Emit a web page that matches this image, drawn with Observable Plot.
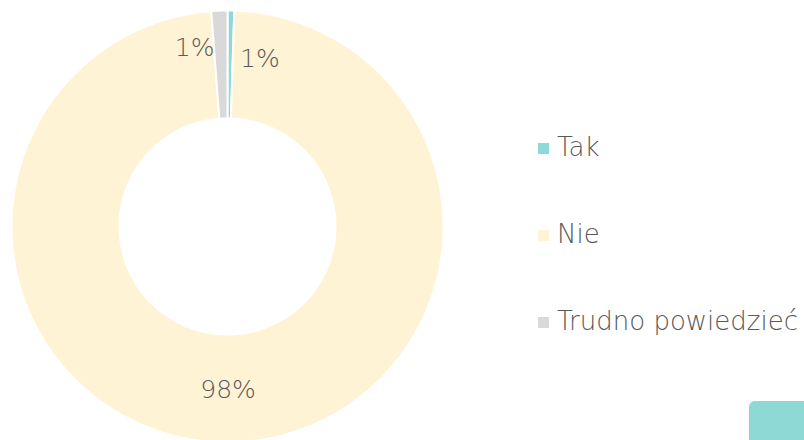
<!DOCTYPE html>
<html>
<head>
<meta charset="utf-8">
<script src="https://cdn.jsdelivr.net/npm/d3@7"></script>
<script src="https://cdn.jsdelivr.net/npm/@observablehq/plot@0.6"></script>
<style>
  html, body { margin: 0; padding: 0; background: #fff; }
  #wrap { position: relative; width: 804px; height: 440px; overflow: hidden; font-family: "DejaVu Sans", sans-serif; }
  #chart { position: absolute; left: 0; top: 0; }
  #legend { position: absolute; left: 538px; top: 132px; display: flex; flex-direction: column; gap: 57px; }
  .item { display: flex; align-items: center; height: 30px; color: #595959; font-size: 26px; font-weight: 300; white-space: nowrap; }
  .sw { width: 11px; height: 11px; margin-right: 8px; margin-top: 3px; }
  #deco { position: absolute; left: 749px; top: 401px; width: 70px; height: 50px; border-radius: 6px; background: #8ED8D6; }
</style>
</head>
<body>
<div id="wrap">
  <div id="chart"></div>
  <div id="legend"></div>
  <div id="deco"></div>
</div>
<script>
const categories = ["Tak", "Nie", "Trudno powiedzieć"];
const values = [0.5, 98.3, 1.2];
const labels = ["1%", "98%", "1%"];
const colors = ["#8ED8D6", "#FFF3D5", "#D9D9D9"];

const W = 804, H = 440;
const cx = 227, cy = 226, R = 216, r0 = 108, rLabel = 162;

const pie = d3.pie().sort(null).value(d => d.value);
const arcs = pie(categories.map((c, i) => ({cat: c, value: values[i], label: labels[i]})));

const pt = (a, rad) => ({x: rad * Math.sin(a), y: rad * Math.cos(a)});
const poly = [];
arcs.forEach(a => {
  const n = Math.max(3, Math.ceil((a.endAngle - a.startAngle) / 0.005));
  const pts = [];
  for (let k = 0; k <= n; k++) pts.push(pt(a.startAngle + (a.endAngle - a.startAngle) * k / n, R));
  for (let k = n; k >= 0; k--) pts.push(pt(a.startAngle + (a.endAngle - a.startAngle) * k / n, r0));
  pts.push(pts[0]);
  pts.forEach((p, j) => poly.push({...p, cat: a.data.cat, order: j}));
});

const lab = arcs.map(a => {
  const m = (a.startAngle + a.endAngle) / 2;
  return {...pt(m, rLabel), label: a.data.label, cat: a.data.cat};
});

const plot = Plot.plot({
  width: W, height: H,
  margin: 0,
  x: {domain: [-cx, W - cx], range: [0, W], axis: null},
  y: {domain: [cy - H, cy], range: [H, 0], axis: null},
  color: {domain: categories, range: colors},
  style: {fontFamily: "DejaVu Sans, sans-serif", background: "transparent"},
  marks: [
    Plot.line(poly, {x: "x", y: "y", z: "cat", fill: "cat", stroke: "white", strokeWidth: 2, curve: "linear-closed"}),
    Plot.text(lab.filter(d => d.cat === "Nie"), {x: "x", y: "y", text: "label", fontSize: 25, fontWeight: 300, fill: "#595959", dx: -3, dy: 2}),
    Plot.text(lab.filter(d => d.cat === "Tak"), {x: "x", y: "y", text: "label", fontSize: 25, fontWeight: 300, fill: "#595959", textAnchor: "start", dx: 10, dy: -6}),
    Plot.text(lab.filter(d => d.cat === "Trudno powiedzieć"), {x: "x", y: "y", text: "label", fontSize: 25, fontWeight: 300, fill: "#595959", textAnchor: "end", dx: -7, dy: -17})
  ]
});
document.getElementById("chart").appendChild(plot);

const legend = document.getElementById("legend");
categories.forEach((c, i) => {
  const it = document.createElement("div");
  it.className = "item";
  const sw = document.createElement("span");
  sw.className = "sw";
  sw.style.background = colors[i];
  const t = document.createElement("span");
  t.textContent = c;
  it.appendChild(sw); it.appendChild(t);
  legend.appendChild(it);
});
</script>
</body>
</html>
